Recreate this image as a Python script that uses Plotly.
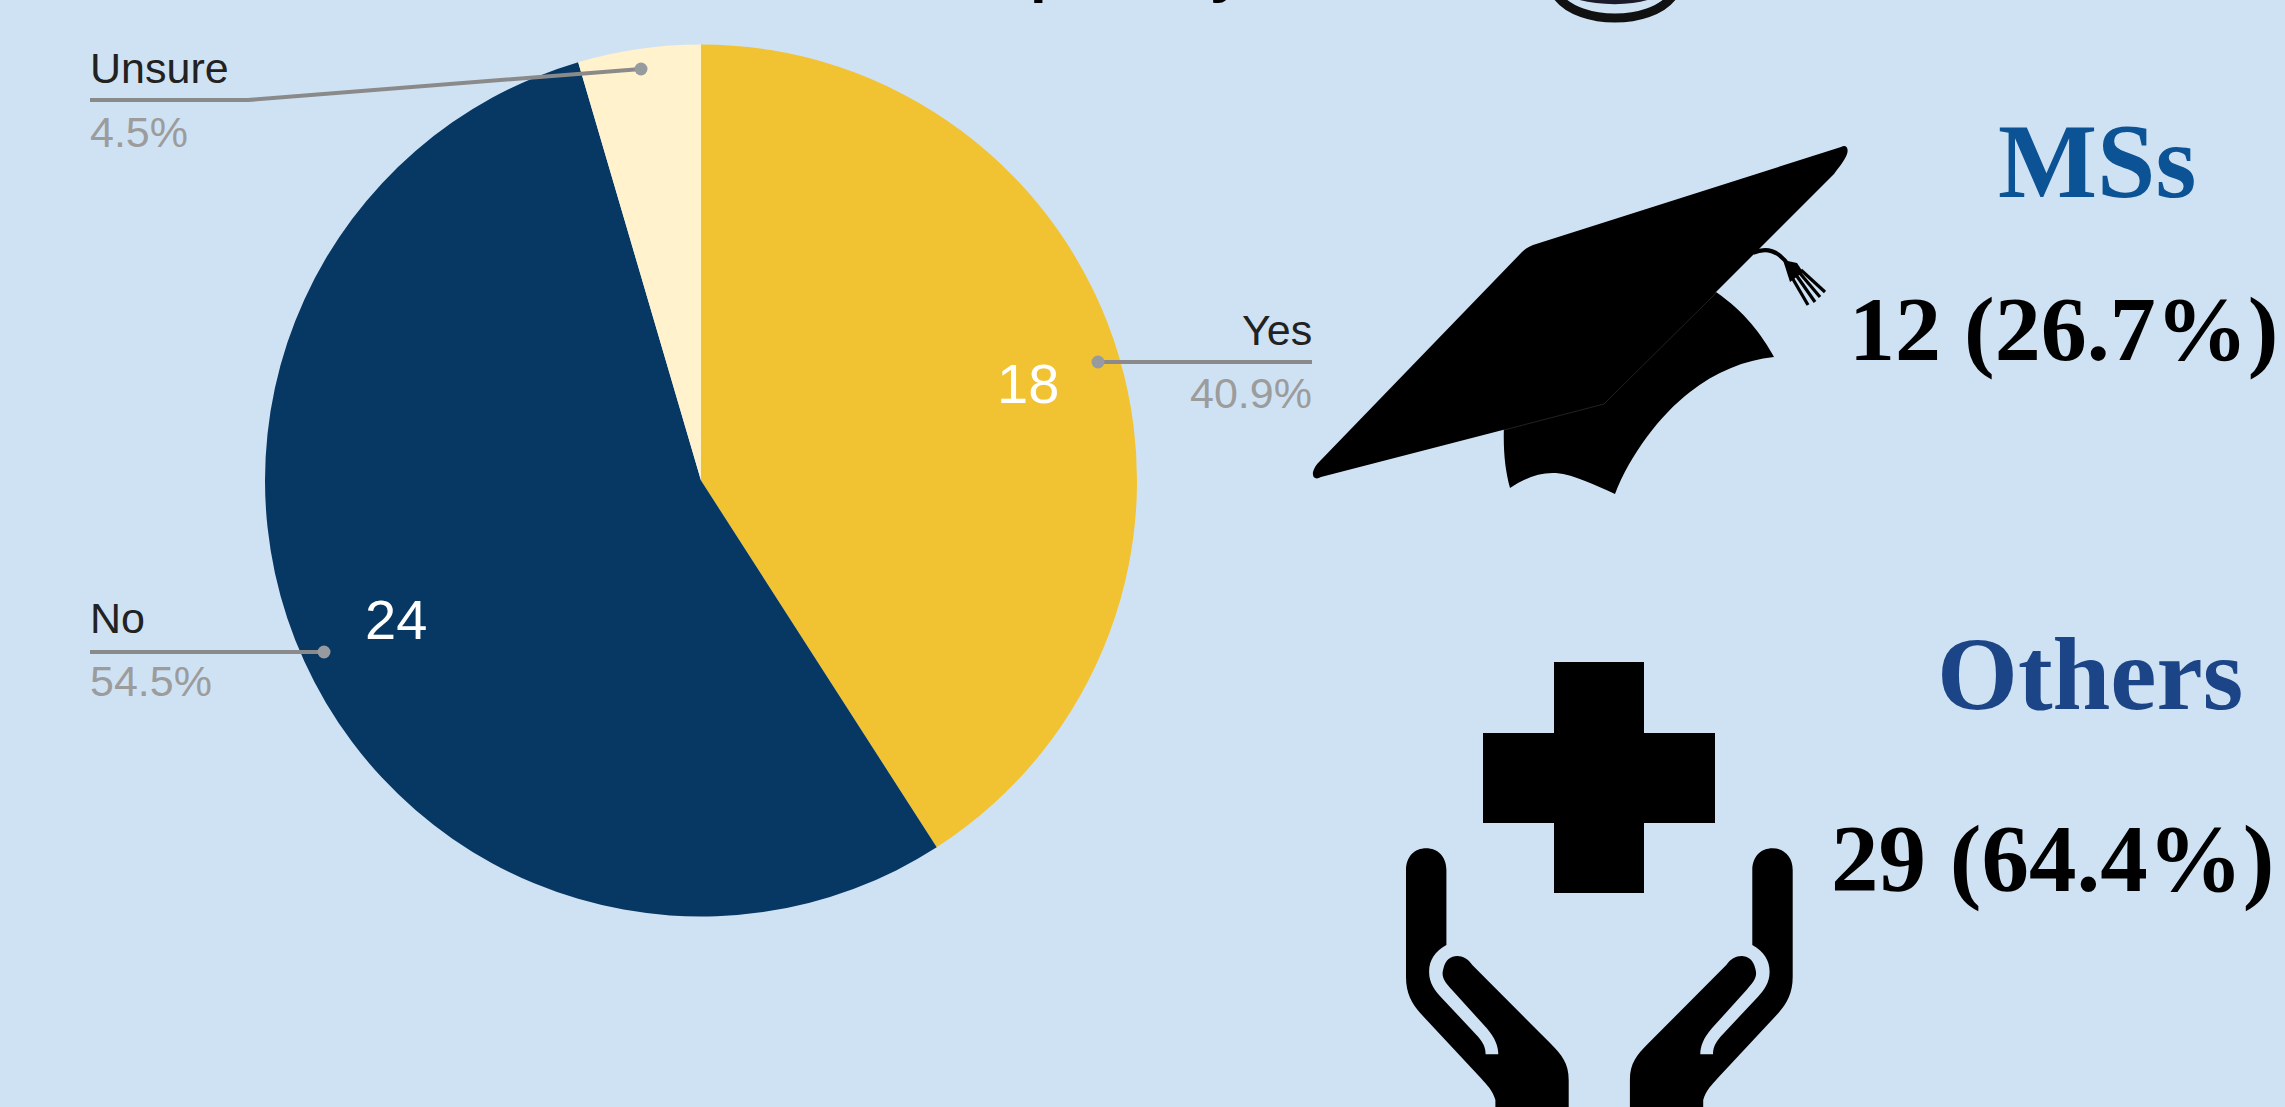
import plotly.graph_objects as go

# Survey responses
categories = ["Yes", "No", "Unsure"]
responses = [18, 24, 2]
slice_colors = ["#F1C232", "#073763", "#FFF2CC"]

# Respondent groups shown beside the pie
group_names = ["MSs", "Others"]
group_stats = ["12 (26.7%)", "29 (64.4%)"]
group_colors = ["#0B5394", "#1C4587"]

WIDTH, HEIGHT = 2285, 1107
BACKGROUND = "#CFE2F3"
SANS = "Liberation Sans"
SERIF = "Liberation Serif"
LEADER = "#8A8A8A"

# Pie geometry in page pixels
PIE_CX, PIE_CY, PIE_R = 701, 480.5, 436

total = sum(responses)
percent_labels = [f"{v / total * 100:.1f}%" for v in responses]

fig = go.Figure(
    go.Pie(
        labels=categories,
        values=responses,
        sort=False,
        direction="clockwise",
        rotation=0,
        textinfo="none",
        marker=dict(colors=slice_colors, line=dict(width=0)),
        showlegend=False,
        domain=dict(
            x=[(PIE_CX - PIE_R) / WIDTH, (PIE_CX + PIE_R) / WIDTH],
            y=[1 - (PIE_CY + PIE_R) / HEIGHT, 1 - (PIE_CY - PIE_R) / HEIGHT],
        ),
    )
)

annotations = []
shapes = []


def text(x, baseline, string, size, color, family=SANS, anchor="left"):
    """Place a text at a baseline, allowing for the font's descent below it."""
    descent = 0.216 if family == SERIF else 0.212
    annotations.append(dict(
        x=x, y=baseline + descent * size, xref="x", yref="y",
        text=string, showarrow=False, xanchor=anchor, yanchor="bottom",
        borderpad=0, borderwidth=0,
        font=dict(family=family, size=size, color=color),
    ))


def leader(points):
    """Thin callout line ending in a round dot inside the slice."""
    d = "M" + " L".join(f"{x},{y}" for x, y in points)
    shapes.append(dict(type="path", path=d, xref="x", yref="y",
                       line=dict(color=LEADER, width=4)))
    x, y = points[-1]
    shapes.append(dict(type="circle", xref="x", yref="y",
                       x0=x - 6.5, x1=x + 6.5, y0=y - 6.5, y1=y + 6.5,
                       fillcolor="#979B9F", line=dict(width=0)))


def blob(path, color="#000000"):
    shapes.append(dict(type="path", path=path, xref="x", yref="y",
                       fillcolor=color, line=dict(width=0)))


def stroke(path, width, color="#000000"):
    shapes.append(dict(type="path", path=path, xref="x", yref="y",
                       line=dict(color=color, width=width)))


# Slice callouts
LABEL_DARK = "#222222"
LABEL_GREY = "#9C9C9C"
LABEL_SIZE = 43

text(1312, 345, categories[0], LABEL_SIZE, LABEL_DARK, anchor="right")
text(1312, 408, percent_labels[0], LABEL_SIZE, LABEL_GREY, anchor="right")
leader([(1312, 362), (1098, 362)])

text(90, 633, categories[1], LABEL_SIZE, LABEL_DARK)
text(90, 696, percent_labels[1], LABEL_SIZE, LABEL_GREY)
leader([(90, 652), (324, 652)])

text(90, 83, categories[2], LABEL_SIZE, LABEL_DARK)
text(90, 147, percent_labels[2], LABEL_SIZE, LABEL_GREY)
leader([(90, 100), (248, 100), (641, 69)])

# Counts printed on the two large slices
text(1028, 403, str(responses[0]), 56, "#FFFFFF", anchor="center")
text(396, 639, str(responses[1]), 56, "#FFFFFF", anchor="center")

# Group headings and counts
text(2097, 197, f"<b>{group_names[0]}</b>", 105, group_colors[0], SERIF, "center")
text(2063, 360, f"<b>{group_stats[0]}</b>", 92, "#000000", SERIF, "center")
text(2090, 709, f"<b>{group_names[1]}</b>", 104, group_colors[1], SERIF, "center")
text(2052, 891, f"<b>{group_stats[1]}</b>", 95, "#000000", SERIF, "center")

# Heading running off the top of the page: only the descenders remain
for x, letter in [(1030, "p"), (1210, "y")]:
    annotations.append(dict(
        x=x, y=4, xref="x", yref="y", text=f"<b>{letter}</b>",
        showarrow=False, xanchor="left", yanchor="bottom",
        borderpad=0, borderwidth=0,
        font=dict(family=SANS, size=60, color="#000000"),
    ))

# Ring emblem, also cut by the top edge
stroke("M1558,-3 C1580,25 1650,25 1672,-3", 9, "#111111")
stroke("M1580,-3 C1600,2.5 1630,2.5 1647,-3", 6, "#1A1A2A")

# Mortarboard: skirt, board, the seam between them and the tassel
blob("M1504,425 C1503,450 1505,470 1510,488 C1525,478 1540,472 1556,473 "
     "C1575,475 1595,485 1615,494 C1630,455 1660,415 1690,392 "
     "C1715,372 1745,360 1774,357 C1762,335 1745,312 1716,292 Z")
blob("M1841,147 C1846,144 1849,148 1847,154 C1845,160 1840,166 1834,174 "
     "L1604,404 L1321,477 C1316,480 1312,478 1313,472 C1314,468 1316,465 1320,461 "
     "L1522,252 C1525,249 1528,247 1533,245 Z")
stroke("M1504,430 L1604,404 L1716,293", 1, "#222222")
stroke("M1753,253 C1768,246 1780,252 1790,267", 4)
blob("M1783,260 L1797,263 L1803,272 L1790,282 Z")
for tip in ["M1790,274 L1808,305", "M1794,272 L1815,302",
            "M1798,271 L1820,297", "M1801,270 L1825,292"]:
    stroke(tip, 3.2)

# Medical cross
blob("M1554,662 H1644 V733 H1715 V823 H1644 V893 H1554 V823 H1483 V733 H1554 Z")

# Cupped hands, described once and mirrored about the cross
HAND = [
    ("M", 45, 690),
    ("C", 45, 650, 60, 625, 80, 625),
    ("C", 100, 625, 115, 650, 115, 690),
    ("L", 115, 915),
    ("C", 95, 935, 85, 960, 85, 995),
    ("C", 85, 1030, 95, 1050, 105, 1070),
    ("L", 170, 1190),
    ("C", 180, 1210, 183, 1225, 183, 1243),
    ("L", 205, 1243),
    ("C", 205, 1220, 200, 1195, 185, 1165),
    ("L", 125, 1050),
    ("C", 112, 1025, 105, 1010, 110, 985),
    ("C", 115, 940, 145, 935, 160, 975),
    ("L", 295, 1210),
    ("C", 315, 1245, 327, 1270, 327, 1320),
    ("L", 327, 1405),
    ("L", 200, 1405),
    ("L", 200, 1380),
    ("C", 195, 1350, 185, 1335, 175, 1315),
    ("L", 70, 1120),
    ("C", 55, 1090, 45, 1060, 45, 1010),
]


def hand_path(mirror):
    parts = []
    for cmd, *nums in HAND:
        coords = []
        for i in range(0, len(nums), 2):
            hx = 760 - nums[i] if mirror else nums[i]
            coords.append(f"{1380 + hx / 1.7326:.1f},{640 + nums[i + 1] / 3:.1f}")
        parts.append(cmd + " ".join(coords))
    return " ".join(parts) + " Z"


blob(hand_path(False))
blob(hand_path(True))

fig.update_layout(
    width=WIDTH,
    height=HEIGHT,
    margin=dict(l=0, r=0, t=0, b=0),
    paper_bgcolor=BACKGROUND,
    plot_bgcolor="rgba(0,0,0,0)",
    xaxis=dict(range=[0, WIDTH], visible=False, fixedrange=True),
    yaxis=dict(range=[HEIGHT, 0], visible=False, fixedrange=True),
    annotations=annotations,
    shapes=shapes,
    showlegend=False,
)

fig.write_html("out.html")
